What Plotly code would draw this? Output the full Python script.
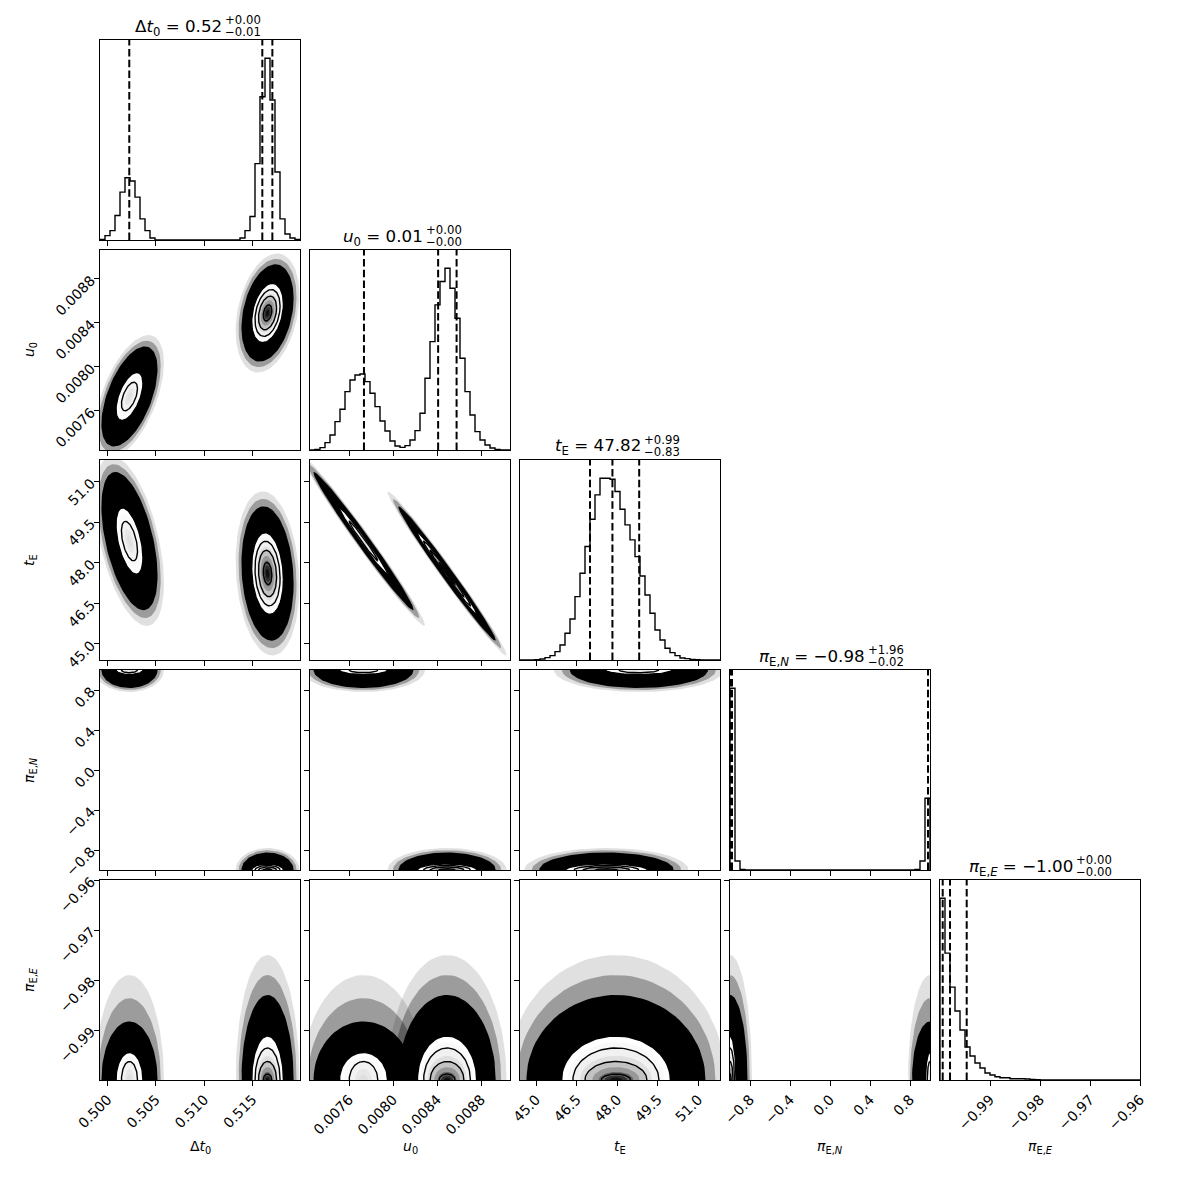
import numpy as np
import plotly.graph_objects as go

FIG = 1180

# ---------------- data ----------------
dims = ["dt0", "u0", "tE", "piEN", "piEE"]
axis_labels = ["Δ<i>t</i><sub>0</sub>", "<i>u</i><sub>0</sub>", "<i>t</i><sub>E</sub>",
               "<i>π</i><sub>E,<i>N</i></sub>", "<i>π</i><sub>E,<i>E</i></sub>"]
ranges = [[0.49921, 0.51991], [0.007243, 0.009063], [44.40, 51.80], [-1.0, 1.0], [-1.0, -0.96]]
tick_vals = [[0.500, 0.505, 0.510, 0.515],
             [0.0076, 0.0080, 0.0084, 0.0088],
             [45.0, 46.5, 48.0, 49.5, 51.0],
             [-0.8, -0.4, 0.0, 0.4, 0.8],
             [-0.99, -0.98, -0.97, -0.96]]
tick_text = [["0.500", "0.505", "0.510", "0.515"],
             ["0.0076", "0.0080", "0.0084", "0.0088"],
             ["45.0", "46.5", "48.0", "49.5", "51.0"],
             ["−0.8", "−0.4", "0.0", "0.4", "0.8"],
             ["−0.99", "−0.98", "−0.97", "−0.96"]]

# 1-D histograms (40 bins over each axis range)
hist_dt0 = [2, 13, 28, 73, 143, 186, 176, 128, 63, 28, 6] + [0] * 17 + \
           [6, 28, 70, 228, 428, 543, 418, 203, 63, 18, 6, 2]
hist_u0 = [0, 2, 7, 22, 45, 85, 122, 175, 210, 225, 228, 205, 170, 130, 87, 57, 27, 12, 8, 13,
           30, 58, 110, 215, 325, 435, 505, 545, 485, 395, 275, 175, 105, 55, 30, 15, 6, 2, 0, 0]
hist_tE = [0, 0, 0, 1, 3, 7, 13, 25, 45, 80, 123, 190, 260, 340, 422, 495, 545, 545, 542, 505,
           452, 405, 360, 310, 252, 195, 140, 90, 60, 35, 22, 13, 6, 4, 2, 1, 0, 0, 0, 0]
hist_piEN = [545, 27, 2] + [0] * 34 + [2, 27, 215]
hist_piEE = [182, 127, 93, 69, 50, 33, 24, 17, 12, 7, 5, 3.3, 2.3, 2.3, 1.3, 1.3, 1.3, 1.0, 0.6, 0.4] + [0] * 20
hists = [hist_dt0, hist_u0, hist_tE, hist_piEN, hist_piEE]

# 16/50/84 % quantiles
quant_dt0 = [0.50224, 0.51601, 0.51705]
quant_u0 = [0.007734, 0.008409, 0.008577]
quant_tE = [46.99, 47.82, 48.81]
quant_piEN = [-0.997, -0.98, 0.98]
quant_piEE = [-0.99946, -0.998, -0.99466]
quants = [quant_dt0, quant_u0, quant_tE, quant_piEN, quant_piEE]

title_main = ["Δ<i>t</i><sub>0</sub> = 0.52", "<i>u</i><sub>0</sub> = 0.01", "<i>t</i><sub>E</sub> = 47.82",
              "<i>π</i><sub>E,<i>N</i></sub> = −0.98", "<i>π</i><sub>E,<i>E</i></sub> = −1.00"]
title_sup = ["+0.00", "+0.00", "+0.99", "+1.96", "+0.00"]
title_sub = ["−0.01", "−0.00", "−0.83", "−0.02", "−0.00"]

# two posterior modes (A: minor, B: major) - centres and widths
mean_A = [0.50226, 0.00773, 48.80, 1.0, -1.0]
mean_B = [0.51655, 0.00849, 47.60, -1.0, -1.0]
sigma_A = [0.00083, 0.000130, 0.73, None, None]
sigma_B = [0.00075, 0.000123, 0.69, None, None]
# t_E - pi_E,E panel: both modes merge into one dome
mean_M = [None, None, 47.95, None, -1.0]
sigma_M = [None, None, 0.92, None, None]
# bounded parameters: extent from the edge at given level radii
knots_A = [0, 1.0, 1.68, 3.5, 4.3]
knots_B = [0, 0.59, 1.245, 1.73, 2.19, 3.6, 4.4]
edge_ext_A = {3: [0, 0.027, 0.045, 0.18, 0.22], 4: [0, 0.0037, 0.0055, 0.0117, 0.021]}
edge_ext_B = {3: [0, 0.012, 0.03, 0.045, 0.06, 0.175, 0.22], 4: [0, 0.0012, 0.0037, 0.0064, 0.0088, 0.0170, 0.025]}
# correlation per panel (row, col): (mode A, mode B)
rho = {(1, 0): (0.55, 0.3), (2, 0): (-0.5, -0.15), (2, 1): (-0.988, -0.99)}
# level radii: halo, black, contours
levels_A = dict(halo=4.3, black=3.5, contours=[1.68, 1.0], grad=[1.4, 1.0, 0.6, 0.3], peak=0.37)
levels_B = dict(halo=4.4, black=3.6, contours=[2.19, 1.73, 1.245, 0.59],
                grad=[1.95, 1.7, 1.45, 1.2, 0.95, 0.7, 0.45, 0.25], peak=1.0)

mode_A = dict(mean=mean_A, sigma=sigma_A, knots=knots_A, edge=edge_ext_A, lev=levels_A, idx=0)
mode_B = dict(mean=mean_B, sigma=sigma_B, knots=knots_B, edge=edge_ext_B, lev=levels_B, idx=1)
mode_M = dict(mean=mean_M, sigma=sigma_M, knots=knots_B, edge=edge_ext_B, lev=levels_B, idx=1)
panel_modes = {(4, 2): [mode_M]}

title_split = [24, 15, 23, 37, 35]

# ---------------- figure ----------------
def dom_x(j):
    return [(100 + 210 * j) / FIG, (300 + 210 * j) / FIG]


def dom_y(i):
    return [1 - (240 + 210 * i) / FIG, 1 - (40 + 210 * i) / FIG]


layout = dict(width=FIG, height=FIG, margin=dict(l=0, r=0, t=0, b=0, autoexpand=False),
              paper_bgcolor="white", plot_bgcolor="white", showlegend=False, template="none",
              font=dict(family="DejaVu Sans", size=14, color="black"))
fig = go.Figure()
axes = {}
k = 0
for i in range(5):
    for j in range(i + 1):
        k += 1
        axes[(i, j)] = k
        xa = dict(domain=dom_x(j), anchor=f"y{k}", range=ranges[j], showgrid=False, zeroline=False,
                  showline=True, mirror=True, linecolor="black", linewidth=1, automargin=False,
                  ticks="outside", ticklen=5, tickwidth=1, tickcolor="black",
                  tickvals=tick_vals[j], ticktext=tick_text[j], showticklabels=(i == 4),
                  tickangle=-45, tickfont=dict(size=14, family="DejaVu Sans", color="black"))
        if i == j:
            ya = dict(domain=dom_y(i), anchor=f"x{k}", range=[0, 1.1 * max(hists[i])], showgrid=False,
                      zeroline=False, showline=True, mirror=True, linecolor="black", linewidth=1,
                      automargin=False, ticks="", showticklabels=False)
        else:
            ya = dict(domain=dom_y(i), anchor=f"x{k}", range=ranges[i], showgrid=False, zeroline=False,
                      showline=True, mirror=True, linecolor="black", linewidth=1, automargin=False,
                      ticks="outside", ticklen=5, tickwidth=1, tickcolor="black",
                      tickvals=tick_vals[i], ticktext=tick_text[i], showticklabels=(j == 0),
                      tickangle=-45, tickfont=dict(size=14, family="DejaVu Sans", color="black"))
        layout["xaxis" if k == 1 else f"xaxis{k}"] = xa
        layout["yaxis" if k == 1 else f"yaxis{k}"] = ya


def ax_ids(k):
    return ("x" if k == 1 else f"x{k}", "y" if k == 1 else f"y{k}")


def extent(m, d, r):
    if m["sigma"][d] is not None:
        return m["sigma"][d] * r
    return float(np.interp(r, m["knots"], m["edge"][d]))


T = np.linspace(0, 2 * np.pi, 90)


def ellipse(m, dx, dy, r, rh):
    ax_ = extent(m, dx, r)
    ay_ = extent(m, dy, r)
    x = m["mean"][dx] + ax_ * np.cos(T)
    y = m["mean"][dy] + ay_ * (rh * np.cos(T) + np.sqrt(1 - rh * rh) * np.sin(T))
    return x, y


def fill(k, x, y, color, opacity=1.0):
    xa, ya = ax_ids(k)
    fig.add_trace(go.Scatter(x=x, y=y, xaxis=xa, yaxis=ya, mode="lines", fill="toself",
                             fillcolor=color, line=dict(width=0), opacity=opacity, hoverinfo="skip"))


def outline(k, x, y):
    xa, ya = ax_ids(k)
    fig.add_trace(go.Scatter(x=x, y=y, xaxis=xa, yaxis=ya, mode="lines",
                             line=dict(color="black", width=1.4), hoverinfo="skip"))


# 2-D panels
for i in range(5):
    for j in range(i):
        k = axes[(i, j)]
        rr = rho.get((i, j), (0.0, 0.0))
        mlist = panel_modes.get((i, j), [mode_A, mode_B])
        for m in mlist:
            lev = m["lev"]
            x, y = ellipse(m, j, i, lev["halo"], rr[m["idx"]])
            fill(k, x, y, "black", 0.12)
            x, y = ellipse(m, j, i, 0.5 * (lev["halo"] + lev["black"]), rr[m["idx"]])
            fill(k, x, y, "black", 0.3)
        for m in mlist:
            x, y = ellipse(m, j, i, m["lev"]["black"], rr[m["idx"]])
            fill(k, x, y, "black")
        for m in mlist:
            x, y = ellipse(m, j, i, m["lev"]["contours"][0], rr[m["idx"]])
            fill(k, x, y, "white")
        for m in mlist:
            lev = m["lev"]
            for r in lev["grad"]:
                g = 1 - (lev["peak"] ** 2) * np.exp(-r * r)
                v = int(round(255 * g))
                x, y = ellipse(m, j, i, r, rr[m["idx"]])
                fill(k, x, y, f"rgb({v},{v},{v})")
        for m in mlist:
            for r in m["lev"]["contours"]:
                x, y = ellipse(m, j, i, r, rr[m["idx"]])
                outline(k, x, y)

# 1-D histograms
for i in range(5):
    k = axes[(i, i)]
    xa, ya = ax_ids(k)
    edges = np.linspace(ranges[i][0], ranges[i][1], len(hists[i]) + 1)
    xs = [edges[0]] + list(edges[:-1]) + [edges[-1]]
    ys = [0] + list(hists[i]) + [0]
    fig.add_trace(go.Scatter(x=xs, y=ys, xaxis=xa, yaxis=ya, mode="lines", line_shape="hv",
                             line=dict(color="black", width=1.4), hoverinfo="skip"))
    top = 1.1 * max(hists[i])
    for q in quants[i]:
        fig.add_trace(go.Scatter(x=[q, q], y=[0, top], xaxis=xa, yaxis=ya, mode="lines",
                                 line=dict(color="black", width=2, dash="7.5px,3.3px"), hoverinfo="skip"))

# titles and axis labels
ann = []
for i in range(5):
    cx = 200 + 210 * i
    top = 40 + 210 * i
    split = cx + title_split[i]
    ann.append(dict(x=split / FIG, y=1 - (top - 13) / FIG, xref="paper", yref="paper", xanchor="right",
                    yanchor="middle", text=title_main[i], showarrow=False,
                    font=dict(size=16.7, family="DejaVu Sans", color="black")))
    ann.append(dict(x=(split - 1) / FIG, y=1 - (top - 20) / FIG, xref="paper", yref="paper", xanchor="left",
                    yanchor="middle", text=title_sup[i], showarrow=False,
                    font=dict(size=11.7, family="DejaVu Sans", color="black")))
    ann.append(dict(x=(split - 1) / FIG, y=1 - (top - 8) / FIG, xref="paper", yref="paper", xanchor="left",
                    yanchor="middle", text=title_sub[i], showarrow=False,
                    font=dict(size=11.7, family="DejaVu Sans", color="black")))
    ann.append(dict(x=cx / FIG, y=1 - 1147 / FIG, xref="paper", yref="paper", xanchor="center",
                    yanchor="middle", text=axis_labels[i], showarrow=False,
                    font=dict(size=14, family="DejaVu Sans", color="black")))
    if i > 0:
        ann.append(dict(x=30 / FIG, y=1 - (140 + 210 * i) / FIG, xref="paper", yref="paper",
                        xanchor="center", yanchor="middle", text=axis_labels[i], textangle=-90,
                        showarrow=False, font=dict(size=14, family="DejaVu Sans", color="black")))
layout["annotations"] = ann
fig.update_layout(**layout)
fig.write_html("out.html")
